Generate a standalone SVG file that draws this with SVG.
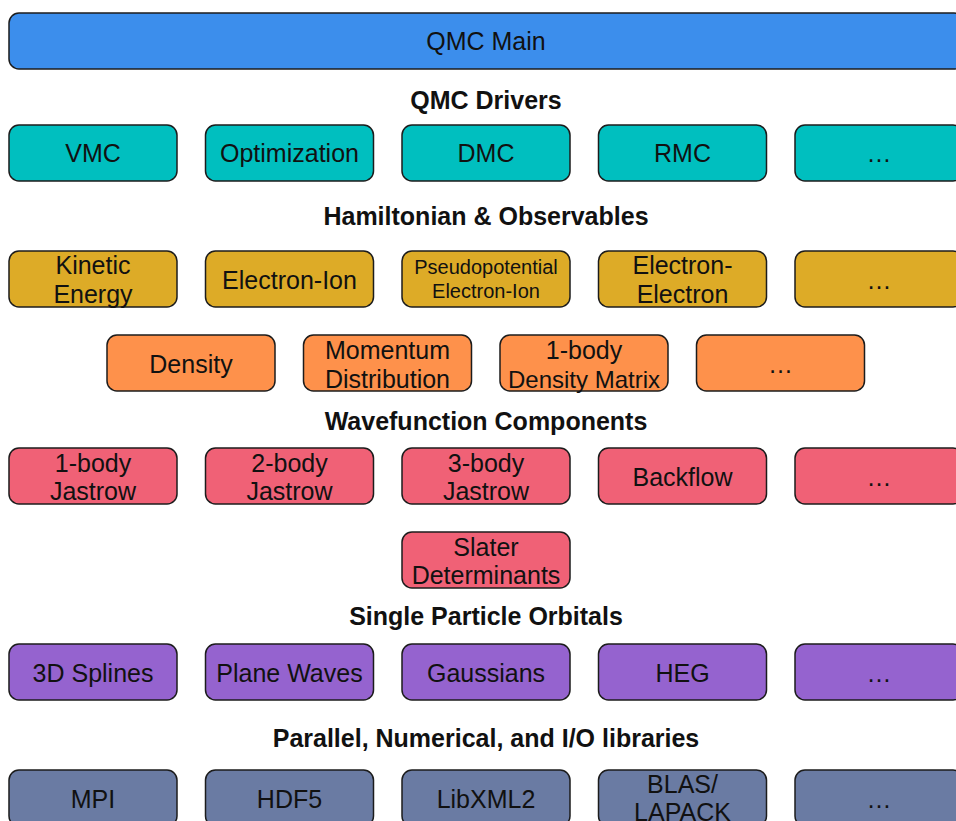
<svg xmlns="http://www.w3.org/2000/svg" width="956" height="821" viewBox="0 0 956 821">
<style>
rect.b{stroke:#1c1c1c;stroke-width:1.5}
text{font-family:"Liberation Sans",Arial,Helvetica,sans-serif;fill:#111;text-anchor:middle}
.t{font-size:25px}
.s{font-size:20px}
.h{font-size:25px;font-weight:bold}
.main{fill:#3c8eec}.drv{fill:#00bfbf}.ham{fill:#ddab27}.obs{fill:#fe914b}.wf{fill:#f06176}.spo{fill:#9563cf}.lib{fill:#6a7ba3}
</style>
<rect width="956" height="821" fill="#fff"/>
<g id="qmc-main"><rect class="b main" x="9" y="13" width="955" height="56" rx="10"/><text class="t" x="486" y="50">QMC Main</text></g>
<text class="h" x="486" y="109">QMC Drivers</text>
<g id="vmc"><rect class="b drv" x="9" y="125" width="168" height="56" rx="10"/><text class="t" x="93" y="162">VMC</text></g>
<g id="optimization"><rect class="b drv" x="205.5" y="125" width="168" height="56" rx="10"/><text class="t" x="289.5" y="162">Optimization</text></g>
<g id="dmc"><rect class="b drv" x="402" y="125" width="168" height="56" rx="10"/><text class="t" x="486" y="162">DMC</text></g>
<g id="rmc"><rect class="b drv" x="598.5" y="125" width="168" height="56" rx="10"/><text class="t" x="682.5" y="162">RMC</text></g>
<g id="drv-more"><rect class="b drv" x="795" y="125" width="168" height="56" rx="10"/><text class="t" x="879" y="162">…</text></g>
<text class="h" x="486" y="225">Hamiltonian &amp; Observables</text>
<g id="kinetic"><rect class="b ham" x="9" y="251" width="168" height="56" rx="10"/><text class="t" x="93" y="274">Kinetic</text><text class="t" x="93" y="303">Energy</text></g>
<g id="electron-ion"><rect class="b ham" x="205.5" y="251" width="168" height="56" rx="10"/><text class="t" x="289.5" y="289">Electron-Ion</text></g>
<g id="pseudo"><rect class="b ham" x="402" y="251" width="168" height="56" rx="10"/><text class="s" x="486" y="274">Pseudopotential</text><text class="s" x="486" y="298">Electron-Ion</text></g>
<g id="ee"><rect class="b ham" x="598.5" y="251" width="168" height="56" rx="10"/><text class="t" x="682.5" y="274">Electron-</text><text class="t" x="682.5" y="303">Electron</text></g>
<g id="ham-more"><rect class="b ham" x="795" y="251" width="168" height="56" rx="10"/><text class="t" x="879" y="289">…</text></g>
<g id="density"><rect class="b obs" x="107" y="335" width="168" height="56" rx="10"/><text class="t" x="191" y="373">Density</text></g>
<g id="momentum"><rect class="b obs" x="303.5" y="335" width="168" height="56" rx="10"/><text class="t" x="387.5" y="359">Momentum</text><text class="t" x="387.5" y="388">Distribution</text></g>
<g id="dm1"><rect class="b obs" x="500" y="335" width="168" height="56" rx="10"/><text class="t" x="584" y="359">1-body</text><text class="t" x="584" y="388" style="font-size:24px">Density Matrix</text></g>
<g id="obs-more"><rect class="b obs" x="696.5" y="335" width="168" height="56" rx="10"/><text class="t" x="780.5" y="373">…</text></g>
<text class="h" x="486" y="430">Wavefunction Components</text>
<g id="j1"><rect class="b wf" x="9" y="448" width="168" height="56" rx="10"/><text class="t" x="93" y="472">1-body</text><text class="t" x="93" y="500">Jastrow</text></g>
<g id="j2"><rect class="b wf" x="205.5" y="448" width="168" height="56" rx="10"/><text class="t" x="289.5" y="472">2-body</text><text class="t" x="289.5" y="500">Jastrow</text></g>
<g id="j3"><rect class="b wf" x="402" y="448" width="168" height="56" rx="10"/><text class="t" x="486" y="472">3-body</text><text class="t" x="486" y="500">Jastrow</text></g>
<g id="backflow"><rect class="b wf" x="598.5" y="448" width="168" height="56" rx="10"/><text class="t" x="682.5" y="486">Backflow</text></g>
<g id="wf-more"><rect class="b wf" x="795" y="448" width="168" height="56" rx="10"/><text class="t" x="879" y="486">…</text></g>
<g id="slater"><rect class="b wf" x="402" y="532" width="168" height="56" rx="10"/><text class="t" x="486" y="556">Slater</text><text class="t" x="486" y="584">Determinants</text></g>
<text class="h" x="486" y="625">Single Particle Orbitals</text>
<g id="splines"><rect class="b spo" x="9" y="644" width="168" height="56" rx="10"/><text class="t" x="93" y="682">3D Splines</text></g>
<g id="pw"><rect class="b spo" x="205.5" y="644" width="168" height="56" rx="10"/><text class="t" x="289.5" y="682">Plane Waves</text></g>
<g id="gauss"><rect class="b spo" x="402" y="644" width="168" height="56" rx="10"/><text class="t" x="486" y="682">Gaussians</text></g>
<g id="heg"><rect class="b spo" x="598.5" y="644" width="168" height="56" rx="10"/><text class="t" x="682.5" y="682">HEG</text></g>
<g id="spo-more"><rect class="b spo" x="795" y="644" width="168" height="56" rx="10"/><text class="t" x="879" y="682">…</text></g>
<text class="h" x="486" y="747">Parallel, Numerical, and I/O libraries</text>
<g id="mpi"><rect class="b lib" x="9" y="770" width="168" height="56" rx="10"/><text class="t" x="93" y="808">MPI</text></g>
<g id="hdf5"><rect class="b lib" x="205.5" y="770" width="168" height="56" rx="10"/><text class="t" x="289.5" y="808">HDF5</text></g>
<g id="libxml2"><rect class="b lib" x="402" y="770" width="168" height="56" rx="10"/><text class="t" x="486" y="808">LibXML2</text></g>
<g id="blas"><rect class="b lib" x="598.5" y="770" width="168" height="56" rx="10"/><text class="t" x="682.5" y="793">BLAS/</text><text class="t" x="682.5" y="821">LAPACK</text></g>
<g id="lib-more"><rect class="b lib" x="795" y="770" width="168" height="56" rx="10"/><text class="t" x="879" y="808">…</text></g>
<g id="connectors"/>
</svg>
